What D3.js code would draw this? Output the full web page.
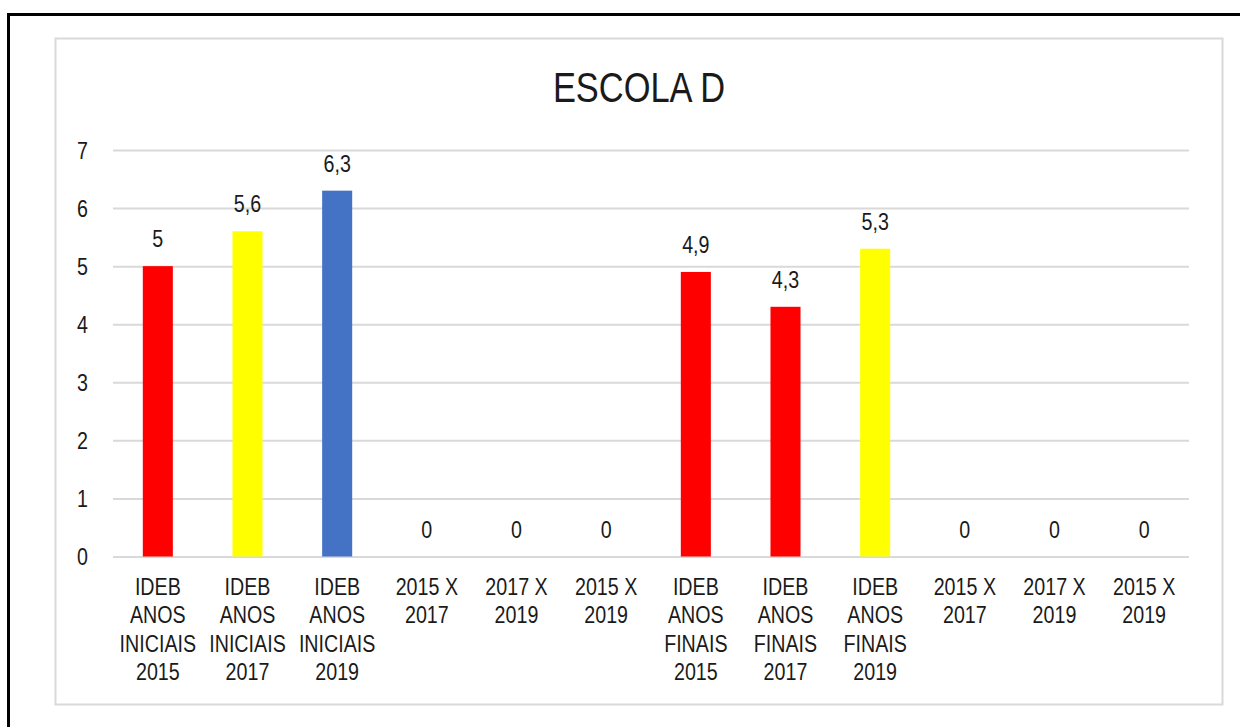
<!DOCTYPE html>
<html>
<head>
<meta charset="utf-8">
<script src="https://cdn.jsdelivr.net/npm/d3@7"></script>
<style>
    body { margin: 0; background: #fff; }
    text { font-family: "Liberation Sans Narrow", "Arial Narrow", "Liberation Sans", Arial, sans-serif; fill: #1a1a1a; }
</style>
</head>
<body>
<div id="main"></div>
<script>
// chart data
const categories = [
    ["IDEB", "ANOS", "INICIAIS", "2015"],
    ["IDEB", "ANOS", "INICIAIS", "2017"],
    ["IDEB", "ANOS", "INICIAIS", "2019"],
    ["2015 X", "2017"],
    ["2017 X", "2019"],
    ["2015 X", "2019"],
    ["IDEB", "ANOS", "FINAIS", "2015"],
    ["IDEB", "ANOS", "FINAIS", "2017"],
    ["IDEB", "ANOS", "FINAIS", "2019"],
    ["2015 X", "2017"],
    ["2017 X", "2019"],
    ["2015 X", "2019"]
]
const values = [5, 5.6, 6.3, 0, 0, 0, 4.9, 4.3, 5.3, 0, 0, 0]
const barColors = ["#ff0000", "#ffff00", "#4472c4", "#ff0000", "#ff0000", "#ff0000",
    "#ff0000", "#ff0000", "#ffff00", "#ff0000", "#ff0000", "#ff0000"]
const yTicks = [0, 1, 2, 3, 4, 5, 6, 7]
const title = "ESCOLA D"

const ctx = {
    w: 1240,
    h: 727,
    left: 113,
    right: 1189,
    top: 150,
    bottom: 556.5,
    narrow: 0.82   // no Arial Narrow installed, squeeze the sans instead
}

// place a text at (x,y) squeezed horizontally
function squeeze(x, y) {
    return `translate(${x},${y}) scale(${ctx.narrow},1)`
}

function createViz() {
    let svgEl = d3.select('#main').append('svg')
        .attr('width', ctx.w)
        .attr('height', ctx.h)

    // outer black frame (runs off the right / bottom edges)
    svgEl.append('rect')
        .attr('x', 8.5).attr('y', 14.5)
        .attr('width', 1300).attr('height', 800)
        .attr('fill', 'none')
        .attr('stroke', '#000')
        .attr('stroke-width', 3)

    // chart area border
    svgEl.append('rect')
        .attr('x', 55.5).attr('y', 38.5)
        .attr('width', 1167).attr('height', 666)
        .attr('fill', '#fff')
        .attr('stroke', '#d9d9d9')
        .attr('stroke-width', 2)

    svgEl.append('text')
        .attr('transform', squeeze(639, 102))
        .attr('text-anchor', 'middle')
        .attr('font-size', 42)
        .text(title)

    let xScale = d3.scaleBand()
        .domain(d3.range(categories.length))
        .range([ctx.left, ctx.right])
        .paddingInner(0.665)
        .paddingOuter(0.3325)
    let yScale = d3.scaleLinear()
        .domain([0, 7])
        .range([ctx.bottom, ctx.top])

    // gridlines
    let grid = svgEl.append('g')
        .attr('transform', `translate(${ctx.left},0)`)
        .call(d3.axisLeft(yScale).tickValues(yTicks).tickSize(-(ctx.right - ctx.left)).tickFormat(''))
    grid.select('.domain').remove()
    grid.selectAll('line').attr('stroke', '#d9d9d9').attr('stroke-width', 2)

    // y labels
    svgEl.append('g').selectAll('text')
        .data(yTicks)
        .join('text')
        .attr('transform', d => squeeze(88, yScale(d) + 8.5))
        .attr('text-anchor', 'end')
        .attr('font-size', 24)
        .text(d3.format('d'))

    // bars
    svgEl.append('g').selectAll('rect')
        .data(values)
        .join('rect')
        .attr('x', (d, i) => xScale(i))
        .attr('width', xScale.bandwidth())
        .attr('y', d => yScale(d))
        .attr('height', d => yScale(0) - yScale(d))
        .attr('fill', (d, i) => barColors[i])

    // value labels
    svgEl.append('g').selectAll('text')
        .data(values)
        .join('text')
        .attr('transform', (d, i) => squeeze(xScale(i) + xScale.bandwidth() / 2, yScale(d) - 19))
        .attr('text-anchor', 'middle')
        .attr('font-size', 24)
        .text(d => String(d).replace('.', ','))

    // category labels, one tspan per line
    let catG = svgEl.append('g').selectAll('text')
        .data(categories)
        .join('text')
        .attr('transform', (d, i) => squeeze(xScale(i) + xScale.bandwidth() / 2, 595))
        .attr('text-anchor', 'middle')
        .attr('font-size', 24)
    catG.selectAll('tspan')
        .data(d => d)
        .join('tspan')
        .attr('x', 0)
        .attr('dy', (l, j) => j === 0 ? 0 : 28.3)
        .text(l => l)
}

createViz()
</script>
</body>
</html>
